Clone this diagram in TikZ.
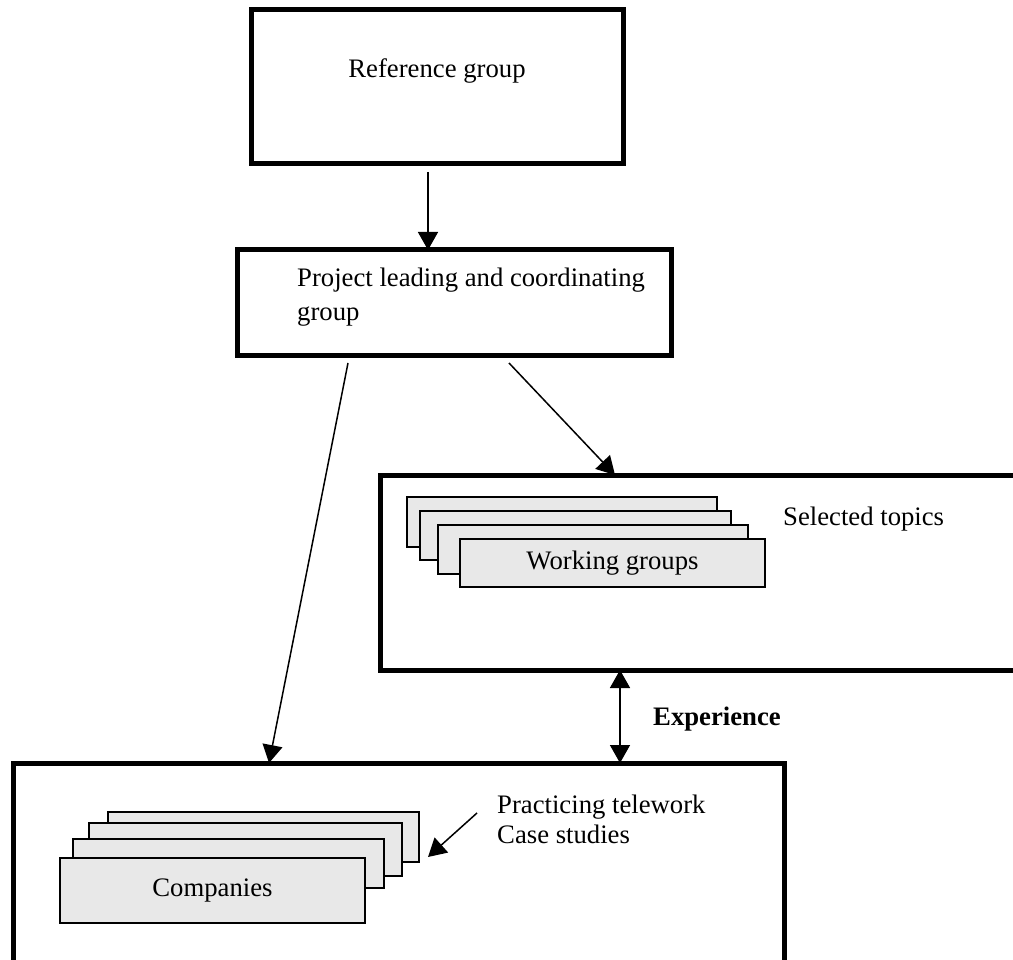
\documentclass[tikz,border=0pt]{standalone}
\usepackage{fontspec}
\setmainfont{Liberation Serif}
\usetikzlibrary{arrows.meta,positioning}
\usepackage{xcolor}
\definecolor{cardgray}{HTML}{E8E8E8}

\begin{document}
\begin{tikzpicture}[
  x=1pt,y=-1pt,
  bigbox/.style={draw,line width=5pt,outer sep=0pt,inner sep=0pt},
  card/.style={draw,line width=1.5pt,fill=cardgray,outer sep=0pt,inner sep=0pt,
    font=\fontsize{26.7}{30}\selectfont},
  txt/.style={inner sep=0pt,align=left,font=\fontsize{26.7}{30}\selectfont},
  arr/.style={line width=1.5pt,-{Triangle[length=18pt,width=20pt]}},
  arrboth/.style={line width=1.5pt,{Triangle[length=18pt,width=20pt]}-{Triangle[length=18pt,width=20pt]}}
]
  \useasboundingbox (0,0) rectangle (1013,960);
  \clip (0,0) rectangle (1013,960);

  % outer boxes
  \node[bigbox,minimum width=372pt,minimum height=154pt] (refbox) at (437,87) {};
  \node[bigbox,minimum width=434pt,minimum height=106pt] (projbox) at (454,303) {};
  \node[bigbox,minimum width=650pt,minimum height=195pt] (wgbox) at (705,572.5) {};
  \node[bigbox,minimum width=771pt,minimum height=222pt] (cobox) at (398.5,874) {};

  \node[txt,anchor=base] (reftext) at (437,78) {Reference group};
  \node[txt,anchor=base west] (projtext) at (297,320) {Project leading and coordinating\\[3pt]group};
  \node[txt,anchor=base west] (topics) at (783,525) {Selected topics};
  \node[txt,anchor=base west] (prac) at (497,843) {Practicing telework\\Case studies};
  \node[txt,anchor=base west,font=\fontsize{26.7}{30}\selectfont\bfseries] (exper) at (653,725) {Experience};

  % working groups stack
  \node[card,minimum width=310pt,minimum height=50pt] (wg1) at (562,522) {};
  \node[card,minimum width=311pt,minimum height=49pt] (wg2) at (575.5,535.5) {};
  \node[card,minimum width=310pt,minimum height=49pt] (wg3) at (593,549.5) {};
  \node[card,minimum width=305pt,minimum height=48pt] (wg4) at (612.5,563) {Working groups};

  % companies stack
  \node[card,minimum width=311pt,minimum height=50pt] (co1) at (263.5,837) {};
  \node[card,minimum width=313pt,minimum height=53pt] (co2) at (245.5,849.5) {};
  \node[card,minimum width=311pt,minimum height=49pt] (co3) at (228.5,863.5) {};
  \node[card,minimum width=305pt,minimum height=65pt] (co4) at (212.5,890.5) {Companies};

  \draw[arr] ([xshift=-9pt,yshift=-8pt]refbox.south) -- ([xshift=-26pt]projbox.north);
  \draw[arr] ([xshift=-106pt,yshift=-7pt]projbox.south) -- ([xshift=-129.5pt]cobox.north);
  \draw[arr] ([xshift=55pt,yshift=-7pt]projbox.south) -- ([xshift=-90pt]wgbox.north);
  \draw[arrboth] ([xshift=-85pt]wgbox.south) -- ([xshift=221.5pt]cobox.north);
  \draw[arr] ([xshift=-20pt,yshift=30pt]prac.base west) -- ([xshift=9pt,yshift=5pt]co1.south east);
\end{tikzpicture}
\end{document}
